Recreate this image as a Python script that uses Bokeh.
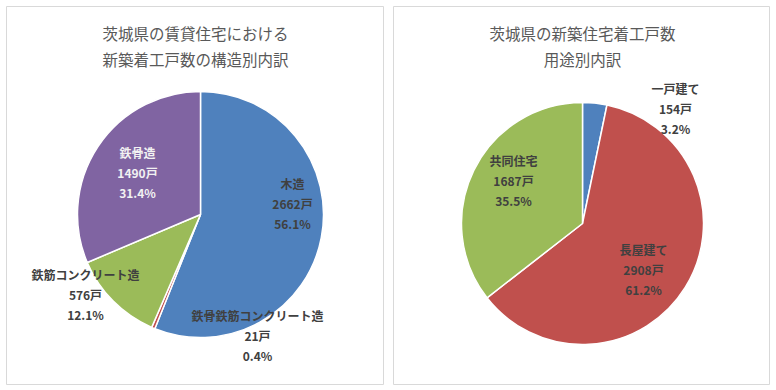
from bokeh.plotting import figure
from bokeh.layouts import row, column
from bokeh.models import Range1d, Spacer, ColumnDataSource
from bokeh.core.properties import value
from bokeh.embed import file_html
from bokeh.resources import INLINE
import math

# ---- data ----
left_title = ["茨城県の賃貸住宅における", "新築着工戸数の構造別内訳"]
left_categories = ["木造", "鉄骨鉄筋コンクリート造", "鉄筋コンクリート造", "鉄骨造"]
left_counts = [2662, 21, 576, 1490]
left_colors = ["#4F81BD", "#C0504D", "#9BBB59", "#8064A2"]

right_title = ["茨城県の新築住宅着工戸数", "用途別内訳"]
right_categories = ["一戸建て", "長屋建て", "共同住宅"]
right_counts = [154, 2908, 1687]
right_colors = ["#4F81BD", "#C0504D", "#9BBB59"]

unit = "戸"

# ---- layout / style (page pixel positions) ----
FONT = "Noto Sans CJK JP"
H = 379
TOP = 6

left_cfg = dict(
    fig_left=6, width=378, cx=200, cy=214, r=123,
    title_x=195, title_y=[32, 58],
    label_pos=[(292, 183), (257, 315), (85, 274), (137, 152)],
    label_colors=["#404040", "#404040", "#404040", "#F2F2F2"],
)
right_cfg = dict(
    fig_left=393, width=377, cx=582, cy=223, r=121,
    title_x=582, title_y=[32, 58],
    label_pos=[(675, 88), (643, 249), (513, 160)],
    label_colors=["#404040", "#404040", "#404040"],
)


def make_pie(title, cats, counts, colors, cfg):
    cx, cy = cfg["cx"], cfg["cy"]
    fl = cfg["fig_left"]
    W = cfg["width"]
    p = figure(width=W, height=H, output_backend="svg", toolbar_location=None,
               x_axis_type=None, y_axis_type=None,
               x_range=Range1d(fl - cx, fl + W - cx),
               y_range=Range1d(cy - (TOP + H), cy - TOP),
               min_border=0, min_border_left=0, min_border_right=0,
               min_border_top=0, min_border_bottom=0)
    p.grid.visible = False
    p.outline_line_color = "#D9D9D9"
    p.outline_line_width = 1
    p.background_fill_color = "white"
    p.border_fill_color = "white"

    total = sum(counts)
    starts, ends = [], []
    acc = 0
    for c in counts:
        starts.append(math.pi / 2 - 2 * math.pi * acc / total)
        acc += c
        ends.append(math.pi / 2 - 2 * math.pi * acc / total)
    src = ColumnDataSource(dict(start=starts, end=ends, color=colors))
    p.wedge(x=0, y=0, radius=cfg["r"], start_angle="start", end_angle="end",
            direction="clock", fill_color="color", line_color="white",
            line_width=1.5, source=src)

    # title
    for i, t in enumerate(title):
        p.text(x=[cfg["title_x"] - cx], y=[cy - cfg["title_y"][i]], text=[t],
               text_font=value(FONT), text_font_size="15.5px",
               text_color="#595959", text_align="center",
               text_baseline="middle")

    # labels
    for i, cat in enumerate(cats):
        lx, ly = cfg["label_pos"][i]
        pct = f"{counts[i] / total * 100:.1f}%"
        lines = [cat, f"{counts[i]}{unit}", pct]
        for j, ln in enumerate(lines):
            p.text(x=[lx - cx], y=[cy - (ly + 20 * j)], text=[ln],
                   text_font=value(FONT), text_font_size="12px",
                   text_font_style="bold", text_color=cfg["label_colors"][i],
                   text_align="center", text_baseline="middle")
    return p


pl = make_pie(left_title, left_categories, left_counts, left_colors, left_cfg)
pr = make_pie(right_title, right_categories, right_counts, right_colors, right_cfg)

layout = column(
    Spacer(width=10, height=TOP),
    row(Spacer(width=left_cfg["fig_left"], height=H), pl,
        Spacer(width=right_cfg["fig_left"] - left_cfg["fig_left"] - left_cfg["width"], height=H),
        pr),
)
open("out.html", "w").write(file_html(layout, INLINE))
